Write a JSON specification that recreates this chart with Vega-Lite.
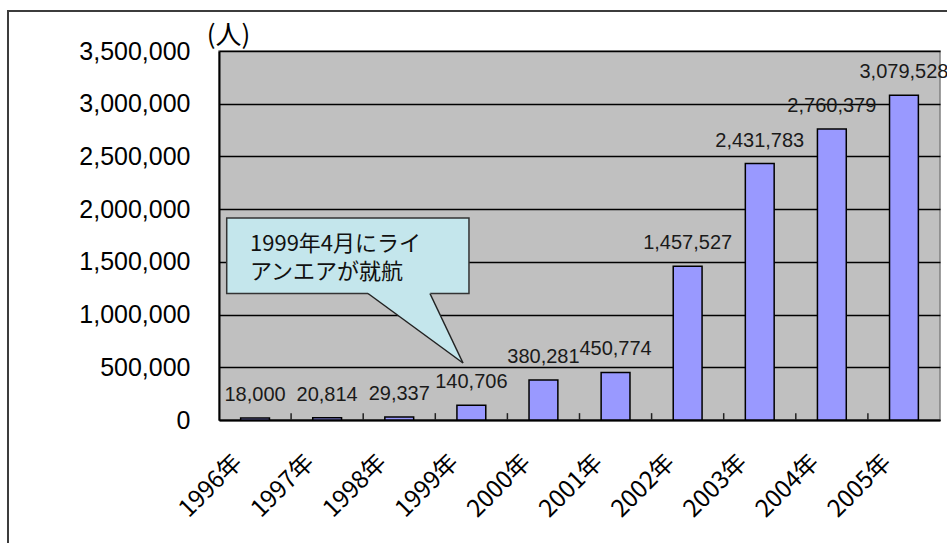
{
  "$schema": "https://vega.github.io/schema/vega-lite/v6.json",
  "width": 721,
  "height": 369,
  "autosize": {"type": "none"},
  "padding": {"left": 219, "top": 51, "right": 7, "bottom": 123},
  "background": "white",
  "config": {
    "view": {"fill": "#c0c0c0", "stroke": "#808080", "strokeWidth": 1.5},
    "font": "Liberation Sans"
  },
  "layer": [
    {
      "data": {
        "values": [
          {"year": "1996年", "passengers": 18000},
          {"year": "1997年", "passengers": 20814},
          {"year": "1998年", "passengers": 29337},
          {"year": "1999年", "passengers": 140706},
          {"year": "2000年", "passengers": 380281},
          {"year": "2001年", "passengers": 450774},
          {"year": "2002年", "passengers": 1457527},
          {"year": "2003年", "passengers": 2431783},
          {"year": "2004年", "passengers": 2760379},
          {"year": "2005年", "passengers": 3079528}
        ]
      },
      "encoding": {
        "x": {
          "field": "year",
          "type": "ordinal",
          "sort": null,
          "scale": {"paddingInner": 0, "paddingOuter": 0},
          "axis": {
            "title": null,
            "domainColor": "black",
            "domainWidth": 2,
            "ticks": false,
            "grid": false,
            "labelAngle": -45,
            "labelOffset": -25,
            "labelPadding": 30,
            "labelFont": "Noto Sans CJK JP",
            "labelFontSize": 24,
            "labelColor": "black"
          }
        },
        "y": {
          "field": "passengers",
          "type": "quantitative",
          "scale": {"domain": [0, 3500000], "nice": false, "zero": true},
          "axis": {
            "values": [0, 500000, 1000000, 1500000, 2000000, 2500000, 3000000, 3500000],
            "format": ",d",
            "title": "(人)",
            "titleAngle": 0,
            "titleX": 9,
            "titleY": -16,
            "titleAlign": "center",
            "titleBaseline": "middle",
            "titleFont": "Noto Sans CJK JP",
            "titleFontSize": 26,
            "titleFontWeight": "normal",
            "titleColor": "black",
            "domainColor": "black",
            "domainWidth": 2,
            "ticks": false,
            "labelPadding": 29,
            "labelFont": "Liberation Sans",
            "labelFontSize": 25,
            "labelColor": "black",
            "grid": true,
            "gridColor": "black",
            "gridWidth": 1.5
          }
        }
      },
      "layer": [
        {
          "mark": {"type": "bar", "width": {"band": 0.4}, "fill": "#9999ff", "stroke": "black", "strokeWidth": 1.5}
        },
        {
          "mark": {"type": "text", "baseline": "middle", "align": "center", "dy": -23, "fontSize": 20, "font": "Liberation Sans", "color": "#1a1a1a"},
          "encoding": {"text": {"field": "passengers", "type": "quantitative", "format": ",d"}}
        }
      ]
    },
    {
      "layer": [
        {
          "data": {"values": [{"x0": -2.9265, "x1": 10.5, "y0": 3879400, "y1": -2000000}]},
          "mark": {"type": "rect", "fill": null, "stroke": "#3c3c3c", "strokeWidth": 2},
          "encoding": {
            "x": {"field": "x0", "type": "quantitative", "scale": {"domain": [0, 10], "nice": false, "zero": false}, "axis": null},
            "x2": {"field": "x1"},
            "y": {"field": "y0", "type": "quantitative", "scale": {"domain": [0, 3500000], "nice": false}},
            "y2": {"field": "y1"}
          }
        },
        {
          "data": {"values": [{"x0": 0.107, "x1": 3.467, "y0": 1916000, "y1": 1199900}]},
          "mark": {"type": "rect", "fill": "#c4e6ec", "stroke": "#333333", "strokeWidth": 1.5},
          "encoding": {
            "x": {"field": "x0", "type": "quantitative", "scale": {"domain": [0, 10], "nice": false, "zero": false}, "axis": null},
            "x2": {"field": "x1"},
            "y": {"field": "y0", "type": "quantitative"},
            "y2": {"field": "y1"}
          }
        },
        {
          "data": {"values": [
            {"px": 2.067, "top": 1215000, "bottom": 1199900},
            {"px": 2.926, "top": 1215000, "bottom": 769900},
            {"px": 3.384, "top": 540650, "bottom": 540650}
          ]},
          "mark": {"type": "area", "fill": "#c4e6ec", "opacity": 1, "interpolate": "linear"},
          "encoding": {
            "x": {"field": "px", "type": "quantitative", "scale": {"domain": [0, 10], "nice": false, "zero": false}, "axis": null},
            "y": {"field": "top", "type": "quantitative"},
            "y2": {"field": "bottom"}
          }
        },
        {
          "data": {"values": [
            {"ax": 2.067, "ay": 1199900, "bx": 3.384, "by": 540650},
            {"ax": 2.926, "ay": 1199900, "bx": 3.384, "by": 540650},
            {"ax": 1, "ay": 0, "bx": 1, "by": 65000},
            {"ax": 2, "ay": 0, "bx": 2, "by": 65000},
            {"ax": 3, "ay": 0, "bx": 3, "by": 65000},
            {"ax": 4, "ay": 0, "bx": 4, "by": 65000},
            {"ax": 5, "ay": 0, "bx": 5, "by": 65000},
            {"ax": 6, "ay": 0, "bx": 6, "by": 65000},
            {"ax": 7, "ay": 0, "bx": 7, "by": 65000},
            {"ax": 8, "ay": 0, "bx": 8, "by": 65000},
            {"ax": 9, "ay": 0, "bx": 9, "by": 65000}
          ]},
          "mark": {"type": "rule", "stroke": "#222222", "strokeWidth": 1.5},
          "encoding": {
            "x": {"field": "ax", "type": "quantitative", "scale": {"domain": [0, 10], "nice": false, "zero": false}, "axis": null},
            "x2": {"field": "bx"},
            "y": {"field": "ay", "type": "quantitative"},
            "y2": {"field": "by"}
          }
        },
        {
          "data": {"values": [
            {"tx": 0.43, "ty": 1669000, "note": "1999年4月にライ"},
            {"tx": 0.43, "ty": 1403800, "note": "アンエアが就航"}
          ]},
          "mark": {"type": "text", "align": "left", "baseline": "middle", "font": "Noto Sans CJK JP", "fontSize": 22, "color": "#111111"},
          "encoding": {
            "x": {"field": "tx", "type": "quantitative", "scale": {"domain": [0, 10], "nice": false, "zero": false}, "axis": null},
            "y": {"field": "ty", "type": "quantitative"},
            "text": {"field": "note"}
          }
        }
      ]
    }
  ],
  "resolve": {"scale": {"x": "independent"}, "axis": {"x": "independent"}}
}
